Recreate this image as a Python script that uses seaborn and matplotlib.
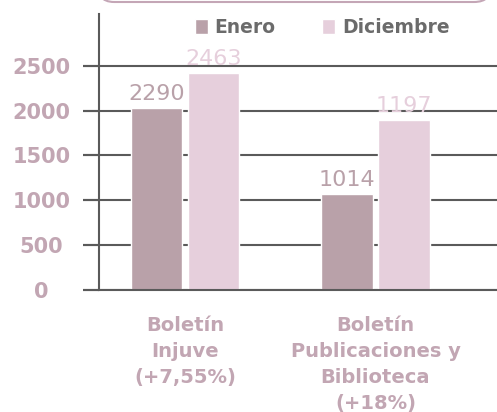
import matplotlib
matplotlib.use("Agg")
import matplotlib.pyplot as plt
import matplotlib.patches as mpatches
from matplotlib.transforms import IdentityTransform
import seaborn as sns
import pandas as pd

# ---- data ----
categories = ["Boletín\nInjuve\n(+7,55%)", "Boletín\nPublicaciones y\nBiblioteca\n(+18%)"]
series = ["Enero", "Diciembre"]
enero_heights = [2025, 1070]
diciembre_heights = [2420, 1890]
enero_labels = ["2290", "1014"]
diciembre_labels = ["2463", "1197"]
yticks = [0, 500, 1000, 1500, 2000, 2500]

# ---- style ----
sns.set_style("white")
plt.rcParams["font.family"] = ["DejaVu Sans"]
plt.rcParams["ytick.left"] = True
plt.rcParams["ytick.major.size"] = 11.5
plt.rcParams["ytick.major.width"] = 1.5

c_enero = "#b9a1a9"
c_dic = "#e6cfdc"
c_tick = "#c2a6b3"
c_grid = "#5a5a5a"
c_legend_text = "#6b6b6b"

df = pd.DataFrame({
    "cat": categories * 2,
    "serie": [series[0]] * 2 + [series[1]] * 2,
    "val": enero_heights + diciembre_heights,
})

fig = plt.figure(figsize=(4.97, 4.12), dpi=100)
ax = fig.add_axes([99 / 497, 122 / 412, 398 / 497, 276 / 412])

sns.barplot(data=df, x="cat", y="val", hue="serie", hue_order=series,
            palette=[c_enero, c_dic], width=0.6, gap=0.1, ax=ax,
            saturation=1, errorbar=None)

ax.set_xlim(-0.451, 1.638)
ax.set_ylim(0, 3076)
ax.set_xlabel("")
ax.set_ylabel("")

# grid & spines
ax.set_axisbelow(True)
ax.yaxis.grid(True, color=c_grid, lw=1.5)
ax.xaxis.grid(False)
for s in ["top", "right"]:
    ax.spines[s].set_visible(False)
for s in ["left", "bottom"]:
    ax.spines[s].set_color(c_grid)
    ax.spines[s].set_linewidth(1.5)

ax.set_yticks(yticks)
ax.set_yticklabels([str(v) for v in yticks], ha="center")
ax.yaxis.set_tick_params(which="major", left=True, length=11.5, width=1.5,
                         color=c_grid, pad=30, labelsize=15,
                         labelcolor=c_tick)
for t in ax.get_yticklabels():
    t.set_fontweight("bold")
# extend gridlines to the left of the axis (tick marks)
for v in yticks:
    ax.plot([-16 / 398, 0], [v, v], transform=ax.get_yaxis_transform(),
            color=c_grid, lw=1.5, clip_on=False, solid_capstyle="butt")

ax.tick_params(axis="x", length=0, pad=19, labelsize=14, labelcolor=c_tick)
for t in ax.get_xticklabels():
    t.set_fontweight("bold")
    t.set_linespacing(1.45)

# value labels
containers = ax.containers
ax.bar_label(containers[0], labels=enero_labels, padding=3, fontsize=16,
             color=c_enero)
ax.bar_label(containers[1], labels=diciembre_labels, padding=3, fontsize=16,
             color=c_dic)

# legend
handles, labels = ax.get_legend_handles_labels()
if ax.get_legend() is not None:
    ax.get_legend().remove()
leg = ax.legend(handles, labels, ncol=2, loc="center",
                bbox_to_anchor=(0.648, 0.934), bbox_transform=fig.transFigure,
                frameon=False, prop={"weight": "bold", "size": 13.5},
                labelcolor=c_legend_text, handlelength=0.7, handleheight=0.85,
                handletextpad=0.35, columnspacing=2.5)

# top rounded box (cut off by the top edge)
box = mpatches.FancyBboxPatch((96, 410), 396, 40,
                              boxstyle="round,pad=0,rounding_size=18",
                              transform=IdentityTransform(),
                              facecolor="none", edgecolor="#c4a6b6", lw=1.5)
fig.patches.append(box)

fig.savefig("out.png", dpi=100)
